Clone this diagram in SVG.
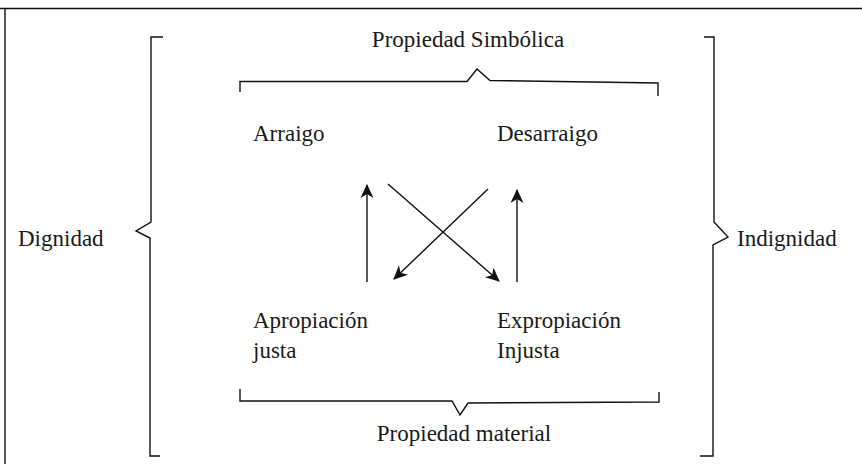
<svg xmlns="http://www.w3.org/2000/svg" width="862" height="464" viewBox="0 0 862 464">
<defs>
<style>
text{font-family:"Liberation Serif","Times New Roman",serif;font-size:23px;fill:#1a1a1a}
.ln{fill:none;stroke:#111;stroke-width:1.4}
.ar{fill:none;stroke:#111;stroke-width:1.4}
</style>
<marker id="ah" viewBox="0 0 14 14" refX="13" refY="7" markerWidth="14" markerHeight="14" markerUnits="userSpaceOnUse" orient="auto">
<path d="M0,0.5 L14,7 L0,13.5 L4,7 Z" fill="#111"/>
</marker>
</defs>
<rect width="862" height="464" fill="#fff"/>
<g id="frame">
<path class="ln" d="M0,8.5 H862 M5,8.5 V464" stroke-width="2"/>
</g>
<g id="braces">
<path class="ln" d="M163,37 H151 V222 L136,231 L150,238 V456 H160"/>
<path class="ln" d="M704,37 H714 V222 L728,237 L713,245 V456 H700"/>
<path class="ln" d="M240,92 V81.5 H467 L477,69 L490,80.5 L658,83 V96"/>
<path class="ln" d="M240,389 V401 H452 L460,415 L468,403 L659,402 V392"/>
</g>
<g id="labels">
<text x="468" y="47" text-anchor="middle">Propiedad Simbólica</text>
<text x="464" y="441" text-anchor="middle">Propiedad material</text>
<text x="18" y="246">Dignidad</text>
<text x="737" y="246">Indignidad</text>
</g>
<g id="n-arraigo"><text x="253" y="141">Arraigo</text></g>
<g id="n-desarraigo"><text x="497" y="141">Desarraigo</text></g>
<g id="n-apropiacion"><text x="253" y="328">Apropiación</text><text x="253" y="358">justa</text></g>
<g id="n-expropiacion"><text x="497" y="328">Expropiación</text><text x="497" y="358">Injusta</text></g>
<g id="connectors">
<line class="ar" x1="367" y1="282" x2="367" y2="185" marker-end="url(#ah)"/>
<line class="ar" x1="517" y1="282" x2="517" y2="190" marker-end="url(#ah)"/>
<line class="ar" x1="388" y1="184" x2="499" y2="281" marker-end="url(#ah)"/>
<line class="ar" x1="488" y1="189" x2="394" y2="279" marker-end="url(#ah)"/>
</g>
</svg>
